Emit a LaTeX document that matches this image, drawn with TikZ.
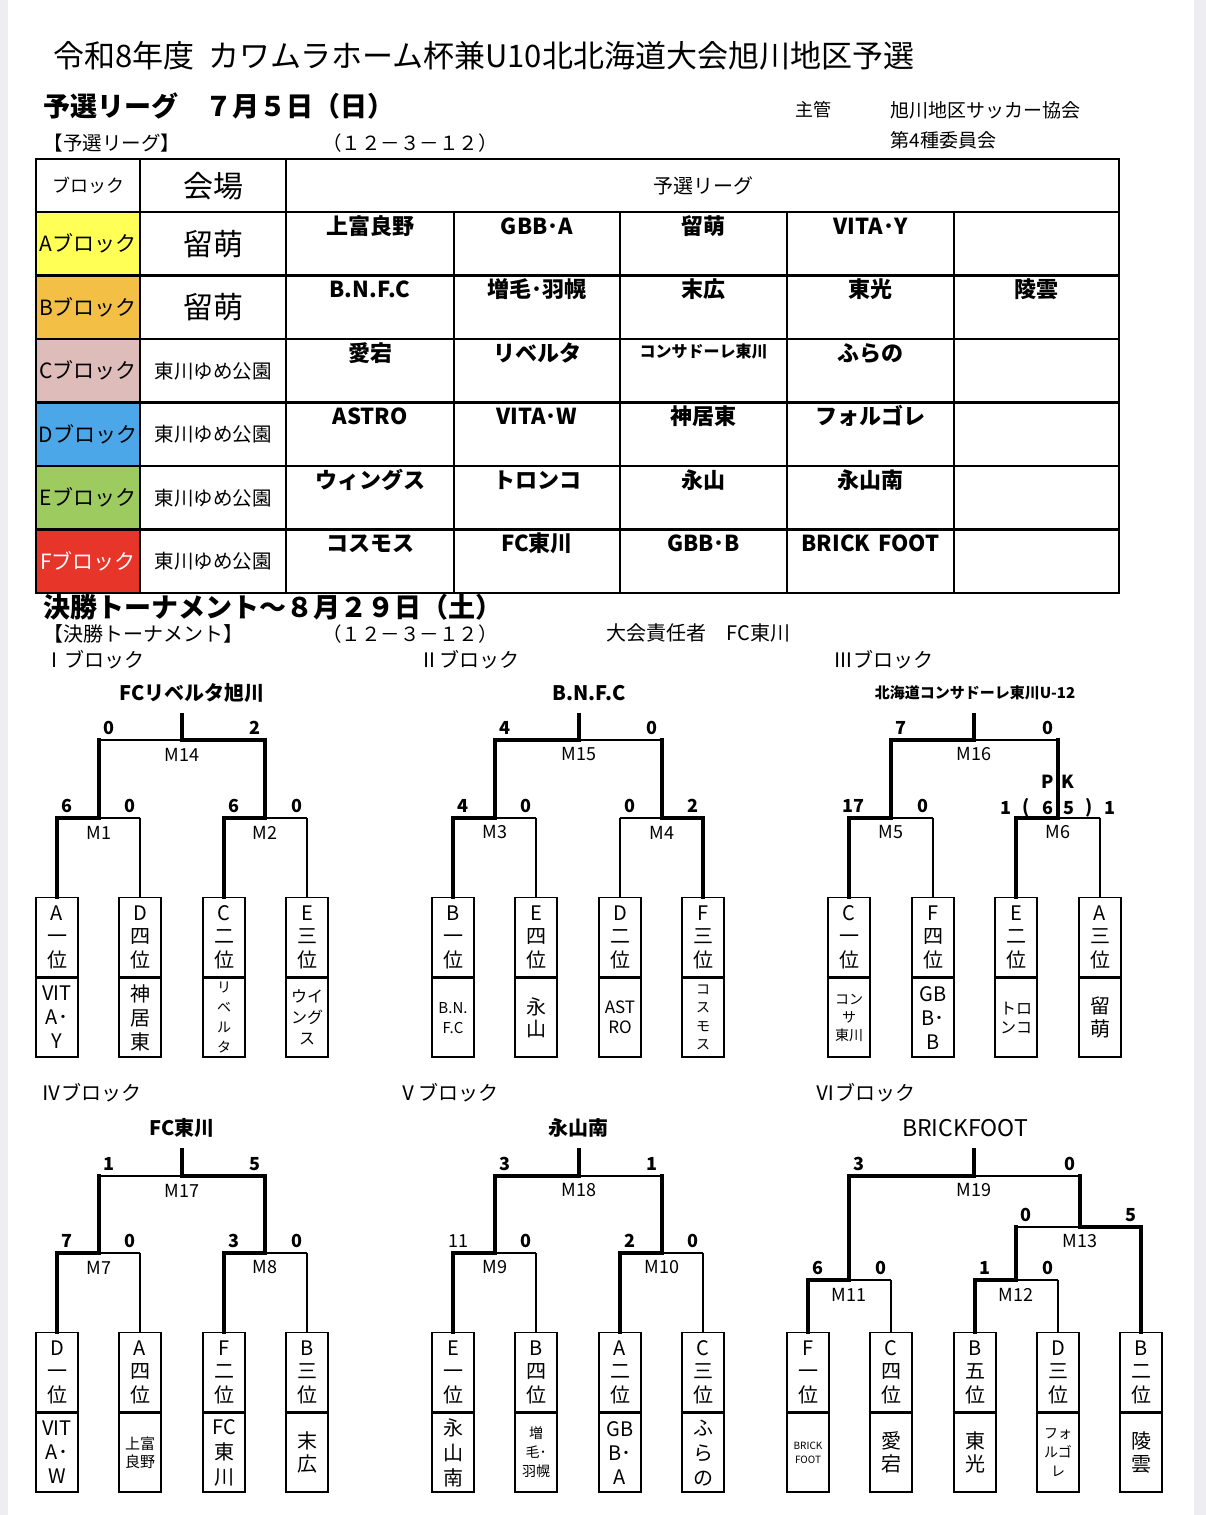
\documentclass[tikz,border=0pt]{standalone}
\usepackage{fontspec}
\setmainfont{Noto Sans CJK JP}
\usepackage{tikz}
\usetikzlibrary{positioning,calc}
\newcommand{\tsz}[2]{\fontsize{#1}{#2}\selectfont}
\definecolor{colA}{HTML}{FFFF55}
\definecolor{colB}{HTML}{F3BF45}
\definecolor{colC}{HTML}{DEBCBA}
\definecolor{colD}{HTML}{4BA7E8}
\definecolor{colE}{HTML}{9DCB5F}
\definecolor{colF}{HTML}{E8352A}
\definecolor{edge}{HTML}{EDEDF2}
\tikzstyle{blkA}=[fill=colA]
\tikzstyle{blkB}=[fill=colB]
\tikzstyle{blkC}=[fill=colC]
\tikzstyle{blkD}=[fill=colD]
\tikzstyle{blkE}=[fill=colE]
\tikzstyle{blkF}=[fill=colF,text=white]
\tikzstyle{cellbox}=[minimum width=104pt,minimum height=63.5pt,inner sep=0,font=\tsz{21}{21}]
\tikzstyle{tname}=[anchor=base,inner sep=0,font=\bfseries\tsz{22}{22}]
\tikzstyle{tline}=[line width=2pt]
\tikzstyle{rline}=[line width=2.2pt]
\tikzstyle{cline}=[line width=1.4pt]
\tikzstyle{win}=[line width=4.6pt,line cap=rect]
\tikzstyle{lose}=[line width=1.4pt]
\tikzstyle{slot}=[draw,line width=1.4pt,minimum width=42pt,minimum height=79pt,inner sep=0,
               anchor=north,align=center,font=\tsz{20}{23.5}]
\tikzstyle{sc}=[inner sep=0,font=\bfseries\tsz{18}{18}]
\tikzstyle{mno}=[inner sep=0,font=\tsz{18}{18}]
\tikzstyle{champ}=[inner sep=0,font=\bfseries\tsz{20}{20}]
\tikzstyle{blkhead}=[anchor=west,inner sep=0,font=\tsz{20}{20}]
% one row of the league table
\newcommand{\lrow}[7]{\node[cellbox,blk#1] (#1blk) at (88,#2+31.75) {#1ブロック};
  \node (#1ven) at (213,#2+32) {#3};
  \node[tname] (#1t1) at (370,#2+22) {#4};
  \node[tname] (#1t2) at (537,#2+22) {#5};
  \node[tname] (#1t3) at (703.5,#2+22) {#6};
  \node[tname] (#1t4) at (870.5,#2+22) {#7};}
% seed box: rank on top, team below
\newcommand{\teambox}[7]{\node[slot] (#1) at (#2,#3) {#4};
  \node[slot,font=\tsz{#5}{#6},below=0pt of #1] (#1t) {#7};}
\newcommand{\wleg}[2]{\draw[win] (#1) -| (#2);}
\newcommand{\lleg}[3]{\draw[lose] (#1) -- (#1 -| #2); \draw[#3] (#1 -| #2) -- (#2);}
\newcommand{\bout}[5]{\node[sc,anchor=east] (#1sl) at ($(#1 -| #2)+(16,-12)$) {#4};
  \node[sc] (#1sr) at ($(#1 -| #3)+(-10.5,-12)$) {#5};
  \node[mno] (#1no) at ($(#1)+(0,14.5)$) {#1};}
\begin{document}
\begin{tikzpicture}[x=1pt,y=-1pt]
  \useasboundingbox (0,0) rectangle (1206,1515);
  \fill[edge] (0,0) rectangle (8,1515);
  \fill[edge] (1194,0) rectangle (1206,1515);

  \node[anchor=west,font=\tsz{31}{31}] (title) at (50,56) {令和8年度\hspace{14pt}カワムラホーム杯兼U10北北海道大会旭川地区予選};
  \node[anchor=west,font=\bfseries\tsz{27}{27}] (lghead) at (40,106) {予選リーグ　７月５日（日）};
  \node[font=\tsz{18}{18}] (kan) at (813,110) {主管};
  \node[anchor=west,font=\tsz{19}{19}] (kyokai) at (887,110) {旭川地区サッカー協会};
  \node[anchor=west,font=\tsz{19}{19}] (iinkai) at (887,140) {第4種委員会};
  \node[anchor=west,font=\tsz{19.5}{19.5}] (lgsub) at (40,143) {【予選リーグ】};
  \node[font=\tsz{19.5}{19.5}] (lgtime) at (410,143) {（１２－３－１２）};

  % league table
  \node[font=\tsz{18}{18}] (hblk) at (88,185) {ブロック};
  \node[font=\tsz{30}{30}] (hven) at (213,186) {会場};
  \node[font=\tsz{20}{20}] (hlg) at (703,186) {予選リーグ};
  \lrow{A}{212}{\tsz{30}{30}留萌}{上富良野}{GBB･A}{留萌}{VITA･Y}
  \lrow{B}{275.5}{\tsz{30}{30}留萌}{B.N.F.C}{増毛･羽幌}{末広}{東光}
  \node[tname] (Bt5) at (1036.5,297.5) {陵雲};
  \lrow{C}{339}{\tsz{19.5}{19.5}東川ゆめ公園}{愛宕}{リベルタ}{\tsz{16}{16}\raisebox{4pt}{コンサドーレ東川}}{ふらの}
  \lrow{D}{402.5}{\tsz{19.5}{19.5}東川ゆめ公園}{ASTRO}{VITA･W}{神居東}{フォルゴレ}
  \lrow{E}{466}{\tsz{19.5}{19.5}東川ゆめ公園}{ウィングス}{トロンコ}{永山}{永山南}
  \lrow{F}{529.5}{\tsz{19.5}{19.5}東川ゆめ公園}{コスモス}{FC東川}{GBB･B}{BRICK\hspace{8pt}FOOT}
  \draw[tline] (36,159) rectangle (1119,593);
  \draw[rline] (36,212) -- (1119,212) (36,275.5) -- (1119,275.5) (36,339) -- (1119,339)
    (36,402.5) -- (1119,402.5) (36,466) -- (1119,466) (36,529.5) -- (1119,529.5);
  \draw[cline] (140,159) -- (140,593) (286,159) -- (286,593) (454,212) -- (454,593)
    (620,212) -- (620,593) (787,212) -- (787,593) (954,212) -- (954,593);

  % tournament
  \node[anchor=west,font=\bfseries\tsz{27}{27}] (tnhead) at (40,607) {決勝トーナメント～８月２９日（土）};
  \node[anchor=west,font=\tsz{20}{20}] (tnsub) at (40,634) {【決勝トーナメント】};
  \node[font=\tsz{19.5}{19.5}] (tntime) at (410,634) {（１２－３－１２）};
  \node[anchor=west,font=\tsz{20}{20}] (tnchief) at (603,633) {大会責任者　FC東川};
  \node[blkhead] (h1) at (44,660) {Ⅰブロック};
  \node[blkhead] (h2) at (419,660) {Ⅱブロック};
  \node[blkhead] (h3) at (833,660) {Ⅲブロック};
  \node[blkhead] (h4) at (41,1093) {Ⅳブロック};
  \node[blkhead] (h5) at (398,1093) {Ⅴブロック};
  \node[blkhead] (h6) at (815,1093) {Ⅵブロック};

  % block I
  \teambox{a1}{57}{897}{A\\一\\位}{20}{24}{VIT\\A･\\Y}
  \teambox{d4}{140}{897}{D\\四\\位}{20}{24}{神\\居\\東}
  \teambox{c2}{224}{897}{C\\二\\位}{14}{20}{リ\\ベ\\ル\\タ}
  \teambox{e3}{307}{897}{E\\三\\位}{16}{21}{ウイ\\ング\\ス}
  \coordinate (M1) at (99,818);
  \coordinate (M2) at (265,818);
  \coordinate (M14) at (182,740);
  \coordinate (T1) at (182,715);
  \wleg{M1}{a1} \lleg{M1}{d4}{lose}
  \wleg{M2}{c2} \lleg{M2}{e3}{lose}
  \wleg{M14}{M2} \lleg{M14}{M1}{win}
  \draw[win] (M14) -- (T1);
  \bout{M1}{a1}{d4}{6}{0}
  \bout{M2}{c2}{e3}{6}{0}
  \bout{M14}{M1}{M2}{0}{2}
  \node[champ] (w1) at (192,693) {FCリベルタ旭川};

  % block II
  \teambox{b1}{453}{897}{B\\一\\位}{15}{20}{B.N.\\F.C}
  \teambox{e4}{536}{897}{E\\四\\位}{20}{22}{永\\山}
  \teambox{d2}{620}{897}{D\\二\\位}{17}{20}{AST\\RO}
  \teambox{f3}{703}{897}{F\\三\\位}{14}{18.5}{コ\\ス\\モ\\ス}
  \coordinate (M3) at (495,818);
  \coordinate (M4) at (662,818);
  \coordinate (M15) at (579,740);
  \coordinate (T2) at (579,715);
  \wleg{M3}{b1} \lleg{M3}{e4}{lose}
  \wleg{M4}{f3} \lleg{M4}{d2}{lose}
  \wleg{M15}{M3} \lleg{M15}{M4}{win}
  \draw[win] (M15) -- (T2);
  \bout{M3}{b1}{e4}{4}{0}
  \bout{M4}{d2}{f3}{0}{2}
  \bout{M15}{M3}{M4}{4}{0}
  \node[champ] (w2) at (589,693) {B.N.F.C};

  % block III
  \teambox{c1}{849}{897}{C\\一\\位}{14}{18}{コン\\サ\\東川}
  \teambox{f4}{933}{897}{F\\四\\位}{20}{24}{GB\\B･\\B}
  \teambox{e2}{1016}{897}{E\\二\\位}{16}{19}{トロ\\ンコ}
  \teambox{a3}{1100}{897}{A\\三\\位}{20}{23}{留\\萌}
  \coordinate (M5) at (891,818);
  \coordinate (M6) at (1058,818);
  \coordinate (M16) at (974,740);
  \coordinate (T3) at (974,715);
  \wleg{M5}{c1} \lleg{M5}{f4}{lose}
  \wleg{M6}{e2} \lleg{M6}{a3}{lose}
  \wleg{M16}{M5} \lleg{M16}{M6}{win}
  \draw[win] (M16) -- (T3);
  \bout{M5}{c1}{f4}{17}{0}
  \bout{M16}{M5}{M6}{7}{0}
  \node[mno] (M6no) at ($(M6)+(0,14.5)$) {M6};
  \node[sc] (M6sl) at (1006,808) {1};
  \node[sc] (M6pl) at (1026,808) {(};
  \node[sc] (M6kl) at (1048,808) {6};
  \node[sc] (M6kr) at (1069,808) {5};
  \node[sc] (M6pr) at (1089,808) {)};
  \node[sc] (M6sr) at (1110,808) {1};
  \node[sc] (M6pk) at (1058,782) {P\hspace{8pt}K};
  \node[champ,font=\bfseries\tsz{15}{15}] (w3) at (975,693) {北海道コンサドーレ東川U-12};

  % block IV
  \teambox{d1}{57}{1332}{D\\一\\位}{20}{24}{VIT\\A･\\W}
  \teambox{a4}{140}{1332}{A\\四\\位}{15}{18}{上富\\良野}
  \teambox{f2}{224}{1332}{F\\二\\位}{20}{25}{FC\\東\\川}
  \teambox{b3}{307}{1332}{B\\三\\位}{20}{23}{末\\広}
  \coordinate (M7) at (99,1253);
  \coordinate (M8) at (265,1253);
  \coordinate (M17) at (182,1176);
  \coordinate (T4) at (182,1150);
  \wleg{M7}{d1} \lleg{M7}{a4}{lose}
  \wleg{M8}{f2} \lleg{M8}{b3}{lose}
  \wleg{M17}{M8} \lleg{M17}{M7}{win}
  \draw[win] (M17) -- (T4);
  \bout{M7}{d1}{a4}{7}{0}
  \bout{M8}{f2}{b3}{3}{0}
  \bout{M17}{M7}{M8}{1}{5}
  \node[champ] (w4) at (182,1128) {FC東川};

  % block V
  \teambox{e1}{453}{1332}{E\\一\\位}{20}{25}{永\\山\\南}
  \teambox{b4}{536}{1332}{B\\四\\位}{14}{19}{増\\毛･\\羽幌}
  \teambox{a2}{620}{1332}{A\\二\\位}{20}{24}{GB\\B･\\A}
  \teambox{c3}{703}{1332}{C\\三\\位}{20}{25}{ふ\\ら\\の}
  \coordinate (M9) at (495,1253);
  \coordinate (M10) at (662,1253);
  \coordinate (M18) at (579,1176);
  \coordinate (T5) at (579,1150);
  \wleg{M9}{e1} \lleg{M9}{b4}{lose}
  \wleg{M10}{a2} \lleg{M10}{c3}{lose}
  \wleg{M18}{M9} \lleg{M18}{M10}{win}
  \draw[win] (M18) -- (T5);
  \bout{M9}{e1}{b4}{\mdseries 11}{0}
  \bout{M10}{a2}{c3}{2}{0}
  \bout{M18}{M9}{M10}{3}{1}
  \node[champ] (w5) at (578,1128) {永山南};

  % block VI
  \teambox{f1}{808}{1332}{F\\一\\位}{10}{14}{BRICK\\FOOT}
  \teambox{c4}{891}{1332}{C\\四\\位}{20}{23}{愛\\宕}
  \teambox{b5}{975}{1332}{B\\五\\位}{20}{23}{東\\光}
  \teambox{d3}{1058}{1332}{D\\三\\位}{14}{19}{フォ\\ルゴ\\レ}
  \teambox{b2}{1141}{1332}{B\\二\\位}{20}{23}{陵\\雲}
  \coordinate (M11) at (849,1280);
  \coordinate (M12) at (1016,1280);
  \coordinate (M13) at (1080,1227);
  \coordinate (M19) at (974,1176);
  \coordinate (T6) at (974,1150);
  \wleg{M11}{f1} \lleg{M11}{c4}{lose}
  \wleg{M12}{b5} \lleg{M12}{d3}{lose}
  \wleg{M13}{b2} \lleg{M13}{M12}{win}
  \wleg{M19}{M11} \lleg{M19}{M13}{win}
  \draw[win] (M19) -- (T6);
  \bout{M11}{f1}{c4}{6}{0}
  \bout{M12}{b5}{d3}{1}{0}
  \bout{M13}{M12}{b2}{0}{5}
  \bout{M19}{M11}{M13}{3}{0}
  \node[champ,font=\tsz{23}{23}] (w6) at (965,1128) {BRICKFOOT};
\end{tikzpicture}
\end{document}
